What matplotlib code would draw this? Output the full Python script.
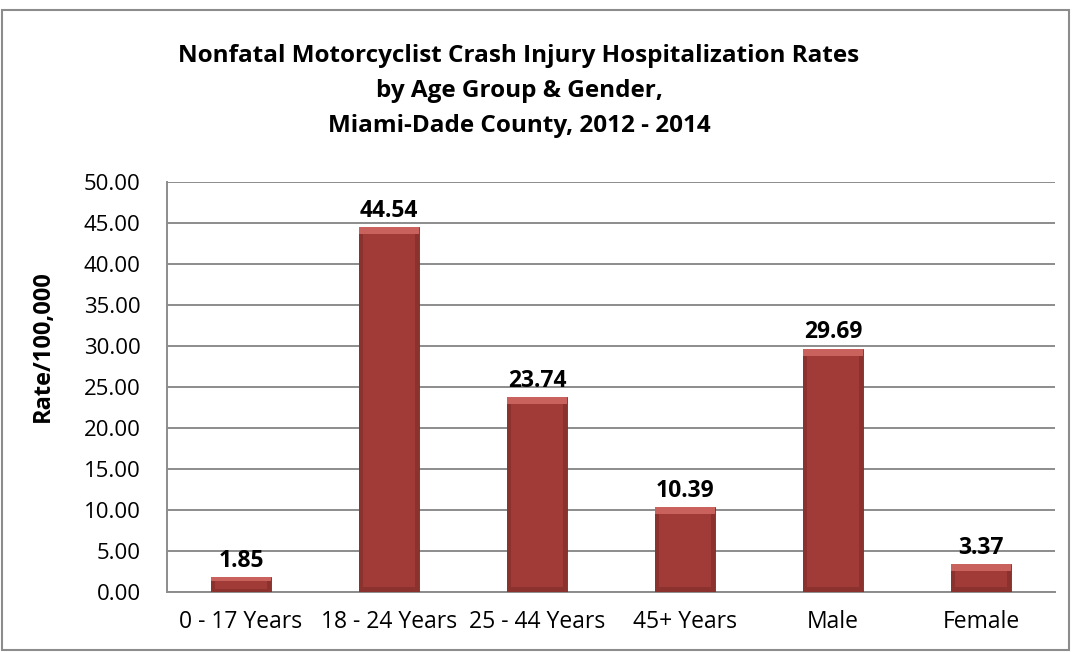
import matplotlib
matplotlib.use("Agg")
import matplotlib.pyplot as plt
from matplotlib.patches import Rectangle

categories = ["0 - 17 Years", "18 - 24 Years", "25 - 44 Years", "45+ Years", "Male", "Female"]
rates = [1.85, 44.54, 23.74, 10.39, 29.69, 3.37]
yticks = [0, 5, 10, 15, 20, 25, 30, 35, 40, 45, 50]

plt.rcParams['font.family'] = ['Open Sans', 'DejaVu Sans']

fig = plt.figure(figsize=(10.73, 6.52), dpi=100)
ax = fig.add_axes([167/1073, 60/652, (1055-167)/1073, 410/652])

x = list(range(len(categories)))
W = 0.4
ax.bar(x, rates, width=W, color="#A03B38", edgecolor="#7A2A28", linewidth=0.6, zorder=3)
# bevel effect: slightly darker side/bottom strips, lighter top strip
side = 0.025
for xi, v in zip(x, rates):
    bh = min(0.85, v * 0.3)
    ax.bar(xi - W/2 + side/2, v, width=side, color="#8B322F", linewidth=0, zorder=4)
    ax.bar(xi + W/2 - side/2, v, width=side, color="#8B322F", linewidth=0, zorder=4)
    ax.bar(xi, bh * 0.7, bottom=0, width=W, color="#8B322F", linewidth=0, zorder=4)
    ax.bar(xi, bh, bottom=v - bh, width=W, color="#C9625D", linewidth=0, zorder=5)

ax.set_xlim(-0.5, len(categories) - 0.5)
ax.set_ylim(0, 50)
ax.set_yticks(yticks)
ax.set_yticklabels([f"{t:.2f}" for t in yticks], fontsize=16)
ax.set_xticks(x)
ax.set_xticklabels(categories, fontsize=16.5)
ax.tick_params(axis='x', length=0, pad=13)
ax.tick_params(axis='y', length=0, pad=19)
ax.grid(axis='y', color="#8C8C8C", linewidth=1.4, zorder=0)
for s in ["top", "right"]:
    ax.spines[s].set_visible(False)
for s in ["left", "bottom"]:
    ax.spines[s].set_color("#8C8C8C")
    ax.spines[s].set_linewidth(1.4)

for xi, v in zip(x, rates):
    ax.annotate(f"{v:.2f}", (xi, v), xytext=(0, 3), textcoords="offset points",
                ha="center", va="bottom", fontsize=16.5, fontweight="bold", zorder=6)

fig.text(43/1073, 1 - 346/652, "Rate/100,000", rotation=90, ha="center", va="center",
         fontsize=17, fontweight="bold")

fig.text(519/1073, 1 - 91/652,
         "Nonfatal Motorcyclist Crash Injury Hospitalization Rates\nby Age Group & Gender,\nMiami-Dade County, 2012 - 2014",
         ha="center", va="center", fontsize=17.5, fontweight="bold", linespacing=1.62)

fig.patches.append(Rectangle((2/1073, 2/652), 1067/1073, 640/652, transform=fig.transFigure,
                             fill=False, edgecolor="#8C8C8C", linewidth=1.5))

fig.savefig("out.png", dpi=100)
